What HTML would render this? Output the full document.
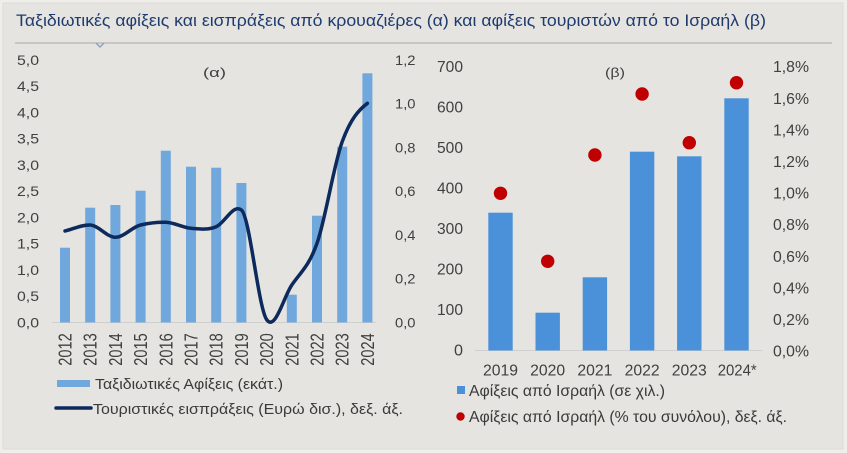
<!DOCTYPE html>
<html>
<head>
<meta charset="utf-8">
<style>
html,body{margin:0;padding:0;background:#efeeeb;}
svg{display:block;}
text{font-family:"Liberation Sans",Arial,sans-serif;}
</style>
</head>
<body>
<svg width="847" height="453" viewBox="0 0 847 453" xmlns="http://www.w3.org/2000/svg">
  <rect x="0" y="0" width="847" height="453" fill="#efeeeb"/>
  <rect x="3" y="3" width="840" height="446" fill="#e5e4e0" stroke="#dcdbd7" stroke-width="1"/>

  <!-- Title -->
  <text x="16" y="26" font-size="17" fill="#1f3b6e" textLength="750" lengthAdjust="spacingAndGlyphs">Ταξιδιωτικές αφίξεις και εισπράξεις από κρουαζιέρες (α) και αφίξεις τουριστών από το Ισραήλ (β)</text>
  <line x1="15" y1="43" x2="832" y2="43" stroke="#a9a9a9" stroke-width="1"/>
  <polyline points="96,43 100,47 104,43" fill="none" stroke="#8fa3bb" stroke-width="1.5"/>

  <!-- ===== LEFT CHART ===== -->
  <g font-size="14" fill="#404040">
    <text x="39" y="65" text-anchor="end" textLength="22" lengthAdjust="spacingAndGlyphs">5,0</text>
    <text x="39" y="91.2" text-anchor="end" textLength="22" lengthAdjust="spacingAndGlyphs">4,5</text>
    <text x="39" y="117.5" text-anchor="end" textLength="22" lengthAdjust="spacingAndGlyphs">4,0</text>
    <text x="39" y="143.7" text-anchor="end" textLength="22" lengthAdjust="spacingAndGlyphs">3,5</text>
    <text x="39" y="170" text-anchor="end" textLength="22" lengthAdjust="spacingAndGlyphs">3,0</text>
    <text x="39" y="196.2" text-anchor="end" textLength="22" lengthAdjust="spacingAndGlyphs">2,5</text>
    <text x="39" y="222.5" text-anchor="end" textLength="22" lengthAdjust="spacingAndGlyphs">2,0</text>
    <text x="39" y="248.7" text-anchor="end" textLength="22" lengthAdjust="spacingAndGlyphs">1,5</text>
    <text x="39" y="275" text-anchor="end" textLength="22" lengthAdjust="spacingAndGlyphs">1,0</text>
    <text x="39" y="301.2" text-anchor="end" textLength="22" lengthAdjust="spacingAndGlyphs">0,5</text>
    <text x="39" y="327.5" text-anchor="end" textLength="22" lengthAdjust="spacingAndGlyphs">0,0</text>

    <text x="395" y="65" textLength="20.5" lengthAdjust="spacingAndGlyphs">1,2</text>
    <text x="395" y="108.7" textLength="20.5" lengthAdjust="spacingAndGlyphs">1,0</text>
    <text x="395" y="152.4" textLength="20.5" lengthAdjust="spacingAndGlyphs">0,8</text>
    <text x="395" y="196.1" textLength="20.5" lengthAdjust="spacingAndGlyphs">0,6</text>
    <text x="395" y="239.8" textLength="20.5" lengthAdjust="spacingAndGlyphs">0,4</text>
    <text x="395" y="283.5" textLength="20.5" lengthAdjust="spacingAndGlyphs">0,2</text>
    <text x="395" y="327.5" textLength="20.5" lengthAdjust="spacingAndGlyphs">0,0</text>
  </g>

  <text x="203" y="77" font-size="13" fill="#404040" textLength="23" lengthAdjust="spacingAndGlyphs">(α)</text>

  <!-- baseline -->
  <line x1="52" y1="322.5" x2="376" y2="322.5" stroke="#cfcfcf" stroke-width="1"/>

  <!-- bars -->
  <g fill="#70a8de">
    <rect x="60" y="247.7" width="10" height="74.8"/>
    <rect x="85.2" y="207.7" width="10" height="114.8"/>
    <rect x="110.4" y="205" width="10" height="117.5"/>
    <rect x="135.6" y="190.7" width="10" height="131.8"/>
    <rect x="160.8" y="150.7" width="10" height="171.8"/>
    <rect x="186" y="166.7" width="10" height="155.8"/>
    <rect x="211.2" y="167.7" width="10" height="154.8"/>
    <rect x="236.4" y="183" width="10" height="139.5"/>
    <rect x="286.8" y="294.7" width="10" height="27.8"/>
    <rect x="312" y="215.7" width="10" height="106.8"/>
    <rect x="337.2" y="146.7" width="10" height="175.8"/>
    <rect x="362.4" y="73.3" width="10" height="249.2"/>
  </g>

  <!-- smoothed line -->
  <path fill="none" stroke="#0c2a5b" stroke-width="3.5" stroke-linecap="round" stroke-linejoin="round"
    d="M65,231
       C73.4,229 81.8,224.6 90.2,225
       C98.6,225.4 107,237.3 115.4,237.3
       C123.8,237.3 132.2,226.9 140.6,225
       C149,223.1 157.4,222.1 165.8,222.3
       C174.2,222.5 182.6,227.6 191,228.3
       C199.4,229 207.8,230.2 216.2,226.7
       C224.6,223.2 233,203.6 241.4,210
       C249.8,216.4 258.2,307 266.6,319.5
       C275,332 283.4,297.5 291.8,285
       C300.2,272.5 308.6,267.1 317,243.3
       C325.4,219.5 333.8,164.7 342.2,141.7
       C350.6,118.7 359,109.7 367.4,103.3"/>

  <!-- rotated years -->
  <g font-size="14.5" fill="#404040">
    <text transform="translate(71.5,365.7) scale(1.25,1) rotate(-90)" textLength="32.4" lengthAdjust="spacingAndGlyphs">2012</text>
    <text transform="translate(96.7,365.7) scale(1.25,1) rotate(-90)" textLength="32.4" lengthAdjust="spacingAndGlyphs">2013</text>
    <text transform="translate(121.9,365.7) scale(1.25,1) rotate(-90)" textLength="32.4" lengthAdjust="spacingAndGlyphs">2014</text>
    <text transform="translate(147.1,365.7) scale(1.25,1) rotate(-90)" textLength="32.4" lengthAdjust="spacingAndGlyphs">2015</text>
    <text transform="translate(172.3,365.7) scale(1.25,1) rotate(-90)" textLength="32.4" lengthAdjust="spacingAndGlyphs">2016</text>
    <text transform="translate(197.5,365.7) scale(1.25,1) rotate(-90)" textLength="32.4" lengthAdjust="spacingAndGlyphs">2017</text>
    <text transform="translate(222.7,365.7) scale(1.25,1) rotate(-90)" textLength="32.4" lengthAdjust="spacingAndGlyphs">2018</text>
    <text transform="translate(247.9,365.7) scale(1.25,1) rotate(-90)" textLength="32.4" lengthAdjust="spacingAndGlyphs">2019</text>
    <text transform="translate(273.1,365.7) scale(1.25,1) rotate(-90)" textLength="32.4" lengthAdjust="spacingAndGlyphs">2020</text>
    <text transform="translate(298.3,365.7) scale(1.25,1) rotate(-90)" textLength="32.4" lengthAdjust="spacingAndGlyphs">2021</text>
    <text transform="translate(323.5,365.7) scale(1.25,1) rotate(-90)" textLength="32.4" lengthAdjust="spacingAndGlyphs">2022</text>
    <text transform="translate(348.7,365.7) scale(1.25,1) rotate(-90)" textLength="32.4" lengthAdjust="spacingAndGlyphs">2023</text>
    <text transform="translate(373.9,365.7) scale(1.25,1) rotate(-90)" textLength="32.4" lengthAdjust="spacingAndGlyphs">2024</text>
  </g>

  <!-- left legend -->
  <rect x="57" y="380" width="33" height="7" fill="#70a8de"/>
  <text x="95" y="389" font-size="15" fill="#3a3a3a" textLength="188" lengthAdjust="spacingAndGlyphs">Ταξιδιωτικές Αφίξεις (εκάτ.)</text>
  <line x1="56" y1="408" x2="91" y2="408" stroke="#0c2a5b" stroke-width="3.5" stroke-linecap="round"/>
  <text x="93" y="414" font-size="15" fill="#3a3a3a" textLength="310" lengthAdjust="spacingAndGlyphs">Τουριστικές εισπράξεις (Ευρώ δισ.), δεξ. άξ.</text>

  <!-- ===== RIGHT CHART ===== -->
  <g font-size="15.5" fill="#404040">
    <text x="463" y="72" text-anchor="end" textLength="26" lengthAdjust="spacingAndGlyphs">700</text>
    <text x="463" y="112.5" text-anchor="end" textLength="26" lengthAdjust="spacingAndGlyphs">600</text>
    <text x="463" y="153" text-anchor="end" textLength="26" lengthAdjust="spacingAndGlyphs">500</text>
    <text x="463" y="193.5" text-anchor="end" textLength="26" lengthAdjust="spacingAndGlyphs">400</text>
    <text x="463" y="234" text-anchor="end" textLength="26" lengthAdjust="spacingAndGlyphs">300</text>
    <text x="463" y="274.5" text-anchor="end" textLength="26" lengthAdjust="spacingAndGlyphs">200</text>
    <text x="463" y="315" text-anchor="end" textLength="26" lengthAdjust="spacingAndGlyphs">100</text>
    <text x="463" y="355.5" text-anchor="end" textLength="9" lengthAdjust="spacingAndGlyphs">0</text>

    <text x="809" y="72.2" text-anchor="end" textLength="36" lengthAdjust="spacingAndGlyphs">1,8%</text>
    <text x="809" y="103.8" text-anchor="end" textLength="36" lengthAdjust="spacingAndGlyphs">1,6%</text>
    <text x="809" y="135.4" text-anchor="end" textLength="36" lengthAdjust="spacingAndGlyphs">1,4%</text>
    <text x="809" y="167" text-anchor="end" textLength="36" lengthAdjust="spacingAndGlyphs">1,2%</text>
    <text x="809" y="198.6" text-anchor="end" textLength="36" lengthAdjust="spacingAndGlyphs">1,0%</text>
    <text x="809" y="230.2" text-anchor="end" textLength="36" lengthAdjust="spacingAndGlyphs">0,8%</text>
    <text x="809" y="261.8" text-anchor="end" textLength="36" lengthAdjust="spacingAndGlyphs">0,6%</text>
    <text x="809" y="293.4" text-anchor="end" textLength="36" lengthAdjust="spacingAndGlyphs">0,4%</text>
    <text x="809" y="325" text-anchor="end" textLength="36" lengthAdjust="spacingAndGlyphs">0,2%</text>
    <text x="809" y="356.6" text-anchor="end" textLength="36" lengthAdjust="spacingAndGlyphs">0,0%</text>

    <text x="500.5" y="375.5" text-anchor="middle" textLength="35" lengthAdjust="spacingAndGlyphs">2019</text>
    <text x="547.7" y="375.5" text-anchor="middle" textLength="35" lengthAdjust="spacingAndGlyphs">2020</text>
    <text x="594.9" y="375.5" text-anchor="middle" textLength="35" lengthAdjust="spacingAndGlyphs">2021</text>
    <text x="642.1" y="375.5" text-anchor="middle" textLength="35" lengthAdjust="spacingAndGlyphs">2022</text>
    <text x="689.3" y="375.5" text-anchor="middle" textLength="35" lengthAdjust="spacingAndGlyphs">2023</text>
    <text x="737.2" y="375.5" text-anchor="middle" textLength="39" lengthAdjust="spacingAndGlyphs">2024*</text>
  </g>

  <text x="605" y="77" font-size="13" fill="#404040" textLength="20" lengthAdjust="spacingAndGlyphs">(β)</text>

  <line x1="475" y1="350.5" x2="762" y2="350.5" stroke="#cfcfcf" stroke-width="1"/>

  <g fill="#4a91d9">
    <rect x="488.3" y="212.7" width="24.4" height="137.8"/>
    <rect x="535.5" y="312.7" width="24.4" height="37.8"/>
    <rect x="582.7" y="277.3" width="24.4" height="73.2"/>
    <rect x="629.9" y="151.7" width="24.4" height="198.8"/>
    <rect x="677.1" y="156.3" width="24.4" height="194.2"/>
    <rect x="724.3" y="98.3" width="24.4" height="252.2"/>
  </g>

  <g fill="#c00000">
    <circle cx="500.5" cy="193.3" r="6.7"/>
    <circle cx="547.7" cy="261.3" r="6.7"/>
    <circle cx="594.9" cy="155" r="6.7"/>
    <circle cx="642.1" cy="94" r="6.7"/>
    <circle cx="689.3" cy="142.7" r="6.7"/>
    <circle cx="736.5" cy="82.7" r="6.7"/>
  </g>

  <!-- right legend -->
  <rect x="457" y="386" width="8" height="8" fill="#4a91d9"/>
  <text x="469" y="396" font-size="15.5" fill="#3a3a3a" textLength="196" lengthAdjust="spacingAndGlyphs">Αφίξεις από Ισραήλ (σε χιλ.)</text>
  <circle cx="460.5" cy="416.5" r="4.2" fill="#c00000"/>
  <text x="469" y="422" font-size="15.5" fill="#3a3a3a" textLength="318" lengthAdjust="spacingAndGlyphs">Αφίξεις από Ισραήλ (% του συνόλου), δεξ. άξ.</text>
</svg>
</body>
</html>
